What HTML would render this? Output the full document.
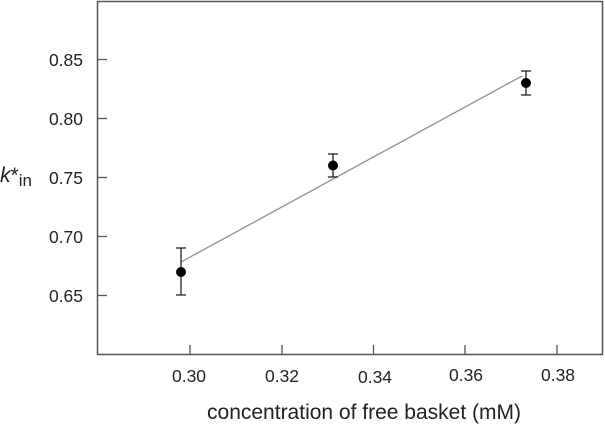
<!DOCTYPE html>
<html><head><style>body{margin:0;background:#fff}svg{display:block}</style></head><body>
<svg width="605" height="424" xmlns="http://www.w3.org/2000/svg" font-family="Liberation Sans, sans-serif">
<rect x="97.5" y="1.5" width="505" height="353" fill="none" stroke="#555" stroke-width="1.5"/>
<g stroke="#555" stroke-width="1.3">
<line x1="97" y1="59.5" x2="107" y2="59.5"/><line x1="97" y1="118.5" x2="107" y2="118.5"/>
<line x1="97" y1="177.5" x2="107" y2="177.5"/><line x1="97" y1="236.5" x2="107" y2="236.5"/>
<line x1="97" y1="295.5" x2="107" y2="295.5"/>
<line x1="190" y1="345" x2="190" y2="354"/><line x1="282" y1="345" x2="282" y2="354"/>
<line x1="373.5" y1="345" x2="373.5" y2="354"/><line x1="465" y1="345" x2="465" y2="354"/>
<line x1="557" y1="345" x2="557" y2="354"/>
</g>
<g font-size="17.5" fill="#222" text-anchor="end">
<text x="83" y="66">0.85</text><text x="83" y="125">0.80</text><text x="83" y="184">0.75</text>
<text x="83" y="243">0.70</text><text x="83" y="302">0.65</text>
</g>
<g font-size="17.5" fill="#222" text-anchor="middle">
<text x="189" y="382">0.30</text><text x="282" y="382">0.32</text><text x="375" y="383">0.34</text>
<text x="466" y="381">0.36</text><text x="558" y="381">0.38</text>
</g>
<text x="364" y="419" font-size="21" fill="#222" text-anchor="middle">concentration of free basket (mM)</text>
<text x="0" y="182" font-size="21" fill="#222"><tspan font-style="italic">k</tspan>*<tspan font-size="17" dy="4">in</tspan></text>
<line x1="181" y1="262" x2="522" y2="76" stroke="#888" stroke-width="1.2"/>
<g stroke="#222" stroke-width="1.3">
<line x1="181" y1="248" x2="181" y2="295"/><line x1="176" y1="248" x2="186" y2="248"/><line x1="176" y1="295" x2="186" y2="295"/>
<line x1="333" y1="154" x2="333" y2="177"/><line x1="328" y1="154" x2="338" y2="154"/><line x1="328" y1="177" x2="338" y2="177"/>
<line x1="526" y1="71" x2="526" y2="95"/><line x1="521" y1="71" x2="531" y2="71"/><line x1="521" y1="95" x2="531" y2="95"/>
</g>
<circle cx="181" cy="272" r="5" fill="#000"/>
<circle cx="333" cy="165.5" r="5" fill="#000"/>
<circle cx="526" cy="83" r="5" fill="#000"/>
</svg>
</body></html>
